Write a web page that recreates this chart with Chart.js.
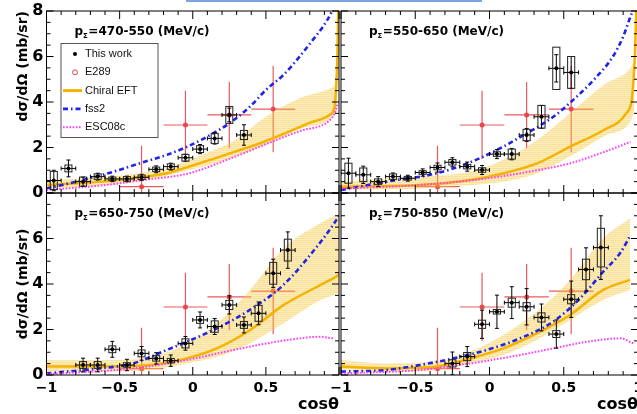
<!DOCTYPE html>
<html><head><meta charset="utf-8">
<script src="https://cdn.jsdelivr.net/npm/chart.js@4.4.1/dist/chart.umd.min.js"></script>
<style>
html,body{margin:0;padding:0;background:#fff;}
#wrap{position:relative;width:637px;height:414px;overflow:hidden;background:#fff;}
#wrap canvas{position:absolute;left:0;top:0;}
#bluebar{position:absolute;left:186px;top:0;width:296px;height:1.5px;background:#7ea3e3;}
</style></head><body>
<div id="wrap">
<canvas id="cTL" width="660" height="414"></canvas>
<canvas id="cTR" width="660" height="414"></canvas>
<canvas id="cBL" width="660" height="414"></canvas>
<canvas id="cBR" width="660" height="414"></canvas>
<div id="bluebar"></div>
</div>
<script>
// ---------- tick labels / texts ----------
const xTickValues = [-1, -0.5, 0, 0.5, 1];
const yTickValues = [0, 2, 4, 6, 8];
const momentumBins = ['470-550', '550-650', '650-750', '750-850'];
const legendLabels = ['This work', 'E289', 'Chiral EFT', 'fss2', 'ESC08c'];
const yTitleText = 'd\u03c3/d\u03a9 (mb/sr)';
const xTitleText = 'cos\u03b8';

// ---------- E289 (same in every panel) ----------
const e289X = [-0.35, -0.05, 0.25, 0.55];
const e289Y = [0.28, 2.99, 3.43, 3.69];
const e289Err = [1.8, 1.5, 1.45, 1.9];

// ---------- panel 1: 470-550 ----------
const tlX = [-0.95,-0.85,-0.75,-0.65,-0.55,-0.45,-0.35,-0.25,-0.15,-0.05,0.05,0.15,0.25,0.35];
const tlY = [0.55,1.08,0.50,0.72,0.62,0.62,0.69,1.04,1.16,1.55,1.93,2.40,3.43,2.55];
const tlStat = [0.45,0.37,0.2,0.15,0.12,0.12,0.13,0.15,0.15,0.15,0.2,0.25,0.3,0.45];
const tlSys = [0.4,0.15,0.2,0.12,0.08,0.1,0.1,0.1,0.12,0.15,0.15,0.22,0.37,0.2];
const tlFssX = [-1,-0.75,-0.54,-0.35,-0.18,-0.04,0.1,0.25,0.39,0.5,0.62,0.73,0.82,0.89,0.95,0.98];
const tlFssY = [0.2,0.57,0.94,1.33,1.67,2.03,2.48,3.06,3.79,4.53,5.19,5.99,6.72,7.31,7.97,8.5];
const tlCeftX = [-1,-0.62,-0.34,-0.17,-0.03,0.13,0.29,0.47,0.63,0.79,0.935,0.97,0.98,0.99,0.995];
const tlCeftY = [0.35,0.5,0.7,0.88,1.15,1.48,1.82,2.21,2.62,3.06,3.43,3.8,4.6,6.3,8.2];
const tlBandX = [-1,-0.6,-0.39,-0.2,-0.03,0.15,0.29,0.5,0.73,0.96,0.985];
const tlBandHi = [0.57,0.7,0.86,1.05,1.45,1.9,2.33,3.35,4.16,4.67,4.8];
const tlBandLo = [0.2,0.33,0.5,0.72,1.0,1.3,1.6,2.1,2.8,3.35,3.6];
const tlEscX = [-1,-0.6,-0.34,-0.03,0.29,0.5,0.73,0.93,0.97,0.99];
const tlEscY = [0.13,0.35,0.57,0.86,1.6,2.15,2.72,3.16,3.5,3.9];

// ---------- panel 2: 550-650 ----------
const trX = [-0.95,-0.85,-0.75,-0.65,-0.55,-0.45,-0.35,-0.25,-0.15,-0.05,0.05,0.15,0.25,0.35,0.45,0.55];
const trY = [0.87,0.80,0.50,0.72,0.65,0.90,1.12,1.35,1.16,1.01,1.71,1.71,2.55,3.35,5.48,5.30];
const trStat = [0.66,0.38,0.22,0.16,0.13,0.16,0.2,0.2,0.2,0.2,0.2,0.25,0.28,0.5,0.6,0.7];
const trSys = [0.44,0.3,0.12,0.12,0.08,0.08,0.1,0.12,0.1,0.1,0.1,0.22,0.25,0.5,0.93,0.7];
const trFssX = [-1,-0.69,-0.36,-0.13,0.07,0.25,0.43,0.56,0.72,0.83,0.9,0.945,0.97];
const trFssY = [0.13,0.5,0.86,1.35,1.96,2.62,3.35,4.07,5.1,5.99,6.87,7.68,8.1];
const trCeftX = [-1,-0.47,-0.13,0.09,0.32,0.54,0.77,0.92,0.958,0.97,0.98,0.99];
const trCeftY = [0.28,0.35,0.57,0.86,1.3,2.03,2.77,3.5,4.1,5.0,6.2,8.2];
const trBandX = [-1,-0.47,-0.13,0.09,0.32,0.54,0.77,0.95,0.975];
const trBandHi = [0.5,0.72,0.94,1.45,2.33,3.5,4.76,5.49,5.8];
const trBandLo = [0.13,0.2,0.35,0.5,0.86,1.6,2.5,3.15,3.6];
const trEscX = [-1,-0.47,-0.02,0.32,0.54,0.77,0.95];
const trEscY = [0.2,0.35,0.64,1.0,1.3,1.8,2.25];

// ---------- panel 3: 650-750 ----------
const blX = [-0.75,-0.65,-0.55,-0.45,-0.35,-0.25,-0.15,-0.05,0.05,0.15,0.25,0.35,0.45,0.55,0.65];
const blY = [0.44,0.44,1.13,0.44,0.95,0.73,0.63,1.39,2.42,2.13,3.08,2.2,2.71,4.47,5.49];
const blStat = [0.3,0.3,0.35,0.25,0.3,0.25,0.25,0.3,0.35,0.35,0.4,0.35,0.5,0.62,0.8];
const blSys = [0.15,0.15,0.15,0.1,0.15,0.12,0.1,0.2,0.15,0.25,0.2,0.15,0.35,0.48,0.48];
const blFssX = [-1,-0.635,-0.407,-0.178,-0.041,0.164,0.39,0.62,0.85,0.96,1.0];
const blFssY = [0.07,0.29,0.51,1.1,1.46,2.05,2.86,3.96,5.65,6.6,7.0];
const blCeftX = [-1,-0.635,-0.293,-0.041,0.164,0.39,0.62,0.85,0.96,1.0];
const blCeftY = [0.37,0.37,0.44,0.73,1.17,1.97,3.07,3.88,4.25,4.4];
const blBandX = [-1,-0.635,-0.293,-0.041,0.164,0.39,0.62,0.85,0.96,1.0];
const blBandHi = [0.65,0.65,0.8,1.39,2.27,3.73,5.56,6.59,6.96,7.0];
const blBandLo = [0.15,0.15,0.22,0.51,0.8,1.39,2.27,3.22,3.51,3.6];
const blEscX = [-1,-0.407,-0.041,0.278,0.506,0.733,0.87,0.96];
const blEscY = [0.04,0.29,0.66,1.1,1.39,1.61,1.68,1.61];

// ---------- panel 4: 750-850 ----------
const brX = [-0.25,-0.15,-0.05,0.05,0.15,0.25,0.35,0.45,0.55,0.65,0.75];
const brY = [0.51,0.81,2.23,2.78,3.18,3.0,2.53,1.80,3.33,4.64,5.6];
const brStat = [0.5,0.44,0.62,0.73,0.7,0.8,0.59,0.62,0.8,0.95,1.4];
const brSys = [0.16,0.18,0.18,0.1,0.2,0.18,0.2,0.15,0.2,0.45,0.85];
const brFssX = [-1,-0.692,-0.468,-0.244,-0.019,0.205,0.43,0.61,0.766,0.879,0.946];
const brFssY = [0.15,0.22,0.44,0.73,1.1,1.61,2.35,3.37,4.54,5.35,6.1];
const brCeftX = [-1,-0.692,-0.356,-0.131,0.093,0.318,0.542,0.766,0.946];
const brCeftY = [0.37,0.29,0.37,0.73,1.17,1.83,2.64,3.74,4.18];
const brBandX = [-1,-0.692,-0.356,-0.131,0.093,0.318,0.542,0.766,0.946];
const brBandHi = [0.66,0.51,0.59,1.03,1.76,2.79,4.18,6.01,6.89];
const brBandLo = [0.22,0.15,0.22,0.51,0.88,1.54,2.42,3.3,3.74];
const brEscX = [-1,-0.468,-0.131,0.205,0.43,0.655,0.879,0.969];
const brEscY = [0.07,0.22,0.51,0.88,1.17,1.46,1.61,1.39];

// ---------- styling ----------
const W = 660, H = 414;
const RED = '#e8484b', ORANGE = '#f5b301', BLUE = '#1f24e6', MAGENTA = '#ff3cff';
Chart.defaults.font.family = '"DejaVu Sans", sans-serif';
Chart.defaults.color = '#000';

const PANELS = [
  {id:'cTL', area:{l:46.5,t:11,r:339,b:193}, pl:14.6, hx:0, xLab:false, yLab:true, yTitle:'end', xTitle:false, hideX:[], hideY:[], bin:momentumBins[0], legend:true,
   tw:[tlX,tlY,tlStat,tlSys], fss:[tlFssX,tlFssY], ceft:[tlCeftX,tlCeftY], band:[tlBandX,tlBandLo,tlBandHi], esc:[tlEscX,tlEscY]},
  {id:'cTR', area:{l:341,t:11,r:638,b:193}, pl:341, hx:0, xLab:false, yLab:false, yTitle:false, xTitle:false, hideX:[], hideY:[], bin:momentumBins[1], legend:false,
   tw:[trX,trY,trStat,trSys], fss:[trFssX,trFssY], ceft:[trCeftX,trCeftY], band:[trBandX,trBandLo,trBandHi], esc:[trEscX,trEscY]},
  {id:'cBL', area:{l:46.5,t:193,r:339,b:375}, pl:14.6, hx:39, xLab:true, yLab:true, yTitle:'center', xTitle:true, hideX:[1], hideY:[8], bin:momentumBins[2], legend:false,
   tw:[blX,blY,blStat,blSys], fss:[blFssX,blFssY], ceft:[blCeftX,blCeftY], band:[blBandX,blBandLo,blBandHi], esc:[blEscX,blEscY]},
  {id:'cBR', area:{l:341,t:193,r:638,b:375}, pl:341, hx:39, xLab:true, yLab:false, yTitle:false, xTitle:true, hideX:[], hideY:[], bin:momentumBins[3], legend:false,
   tw:[brX,brY,brStat,brSys], fss:[brFssX,brFssY], ceft:[brCeftX,brCeftY], band:[brBandX,brBandLo,brBandHi], esc:[brEscX,brEscY]}
];
const PANEL_BY_ID = {};
PANELS.forEach(p => PANEL_BY_ID[p.id] = p);

function pts(xs, ys){ return xs.map((x,i)=>({x:x, y:ys[i]})); }
function fmt(v){ return v < 0 ? '\u2212' + String(-v) : String(v); }

function makePattern(ctx){
  const c = document.createElement('canvas'); c.width = 4; c.height = 2;
  const g = c.getContext('2d');
  g.fillStyle = 'rgba(245,195,50,0.5)'; g.fillRect(0,0,4,1);
  g.fillStyle = 'rgba(245,195,50,0.3)'; g.fillRect(0,1,4,1);
  return ctx.createPattern(c, 'repeat');
}

function drawErrors(chart, e){
  const {ctx, chartArea:a, scales:{x:xs, y:ys}} = chart;
  ctx.save();
  ctx.beginPath(); ctx.rect(a.left, a.top, a.right-a.left, a.bottom-a.top); ctx.clip();
  ctx.strokeStyle = e.color; ctx.lineWidth = e.lw;
  e.x.forEach((xv, i) => {
    const yv = e.y[i];
    const px = xs.getPixelForValue(xv), py = ys.getPixelForValue(yv);
    const x0 = xs.getPixelForValue(xv - e.xerr), x1 = xs.getPixelForValue(xv + e.xerr);
    const y0 = ys.getPixelForValue(yv - e.stat[i]), y1 = ys.getPixelForValue(yv + e.stat[i]);
    ctx.beginPath();
    ctx.moveTo(x0, py); ctx.lineTo(x1, py);
    ctx.moveTo(px, y0); ctx.lineTo(px, y1);
    if (e.cap) {
      const c = e.cap;
      ctx.moveTo(px-c, y0); ctx.lineTo(px+c, y0);
      ctx.moveTo(px-c, y1); ctx.lineTo(px+c, y1);
      ctx.moveTo(x0, py-c); ctx.lineTo(x0, py+c);
      ctx.moveTo(x1, py-c); ctx.lineTo(x1, py+c);
    }
    ctx.stroke();
    if (e.sys) {
      const bx0 = xs.getPixelForValue(xv - e.box), bx1 = xs.getPixelForValue(xv + e.box);
      const by0 = ys.getPixelForValue(yv - e.sys[i]), by1 = ys.getPixelForValue(yv + e.sys[i]);
      ctx.strokeStyle = '#222'; ctx.lineWidth = 1;
      ctx.strokeRect(bx0, by1, bx1-bx0, by0-by1);
      ctx.strokeStyle = e.color; ctx.lineWidth = e.lw;
    }
  });
  ctx.restore();
}

function drawTitle(ctx, a, bin){
  ctx.fillStyle = '#000'; ctx.textBaseline = 'alphabetic'; ctx.textAlign = 'left';
  let x = a.left + 28; const y = a.top + 24;
  ctx.font = 'bold 12px "DejaVu Sans", sans-serif';
  ctx.fillText('p', x, y); x += ctx.measureText('p').width;
  ctx.font = 'bold 7px "DejaVu Sans", sans-serif';
  ctx.fillText('\u03a3', x, y + 3); x += ctx.measureText('\u03a3').width + 0.5;
  ctx.font = 'bold 12px "DejaVu Sans", sans-serif';
  ctx.fillText('=' + bin + ' (MeV/c)', x, y);
}

function drawLegend(ctx, a){
  const bx = a.left + 14.5, by = a.top + 32.5, bw = 97, bh = 94;
  ctx.fillStyle = '#fff'; ctx.fillRect(bx, by, bw, bh);
  ctx.strokeStyle = '#555'; ctx.lineWidth = 1; ctx.setLineDash([]);
  ctx.strokeRect(bx, by, bw, bh);
  const sx = bx + 14, lx0 = bx + 2, lx1 = bx + 21;
  legendLabels.forEach((lab, i) => {
    const yy = by + 10.5 + i * 18.3;
    ctx.save();
    if (i === 0) { ctx.fillStyle = '#000'; ctx.beginPath(); ctx.arc(sx, yy, 2, 0, Math.PI*2); ctx.fill(); }
    else if (i === 1) { ctx.strokeStyle = RED; ctx.lineWidth = 1; ctx.beginPath(); ctx.arc(sx, yy, 2.5, 0, Math.PI*2); ctx.stroke(); }
    else {
      const st = [[ORANGE,3,[]],[BLUE,2.6,[5,3,1.5,3]],[MAGENTA,2,[1.6,1.6]]][i-2];
      ctx.strokeStyle = st[0]; ctx.lineWidth = st[1]; ctx.setLineDash(st[2]);
      ctx.beginPath(); ctx.moveTo(lx0, yy); ctx.lineTo(lx1, yy); ctx.stroke();
    }
    ctx.restore();
    ctx.fillStyle = '#111'; ctx.font = '11px "Liberation Sans", Arial, sans-serif';
    ctx.textBaseline = 'middle'; ctx.textAlign = 'left';
    ctx.fillText(lab, bx + 24, yy);
  });
}

const decor = {
  id: 'decor',
  beforeDatasetDraw(chart, args){
    const ds = chart.data.datasets[args.index];
    if (ds.err) drawErrors(chart, ds.err);
  },
  afterDraw(chart){
    const p = PANEL_BY_ID[chart.canvas.id];
    const {ctx, chartArea:a, scales:{x:xs, y:ys}} = chart;
    ctx.save();
    ctx.setLineDash([]);
    ctx.strokeStyle = '#000'; ctx.lineWidth = 1;
    ctx.strokeRect(a.left, a.top, a.right-a.left, a.bottom-a.top);
    ctx.beginPath();
    for (let i = -10; i <= 10; i++) {
      const px = xs.getPixelForValue(i/10); const L = (i % 5 === 0) ? 8 : 4;
      ctx.moveTo(px, a.bottom); ctx.lineTo(px, a.bottom - L);
      ctx.moveTo(px, a.top); ctx.lineTo(px, a.top + L);
    }
    for (let i = 0; i <= 16; i++) {
      const py = ys.getPixelForValue(i/2); const L = (i % 4 === 0) ? 7 : 4;
      ctx.moveTo(a.left, py); ctx.lineTo(a.left + L, py);
      ctx.moveTo(a.right, py); ctx.lineTo(a.right - L, py);
    }
    ctx.stroke();
    drawTitle(ctx, a, p.bin);
    if (p.legend) drawLegend(ctx, a);
    ctx.restore();
  }
};

function makeChart(p){
  const cv = document.getElementById(p.id);
  const ctx = cv.getContext('2d');
  const pat = makePattern(ctx);
  const Wy = p.area.l - p.pl;
  const lineDs = (label, arr, color, width, dash, order) => ({
    label, data: pts(arr[0], arr[1]), borderColor: color, borderWidth: width, borderDash: dash,
    pointRadius: 0, fill: false, cubicInterpolationMode: 'monotone', order
  });
  const datasets = [
    {label:'This work', data: pts(p.tw[0], p.tw[1]), showLine:false, pointRadius:2, pointBackgroundColor:'#000', pointBorderColor:'#000', pointBorderWidth:0, order:0,
     err:{x:p.tw[0], y:p.tw[1], stat:p.tw[2], sys:p.tw[3], xerr:0.05, box:0.024, cap:2, color:'#000', lw:1}},
    lineDs('ESC08c', p.esc, MAGENTA, 2, [1.6,1.6], 2),
    lineDs('fss2', p.fss, BLUE, 2.6, [5,3,1.5,3], 3),
    lineDs('Chiral EFT', p.ceft, ORANGE, 2.5, [], 4),
    {label:'band low', data: pts(p.band[0], p.band[1]), borderColor:'rgba(0,0,0,0)', borderWidth:1, pointRadius:0, fill:false, cubicInterpolationMode:'monotone', order:5},
    {label:'band high', data: pts(p.band[0], p.band[2]), borderColor:'rgba(0,0,0,0)', borderWidth:1, pointRadius:0, fill:'-1', backgroundColor:pat, cubicInterpolationMode:'monotone', order:6},
    {label:'E289', data: pts(e289X, e289Y), showLine:false, pointRadius:2.5, pointBackgroundColor:RED, pointBorderColor:RED, pointBorderWidth:0, order:7,
     err:{x:e289X, y:e289Y, stat:e289Err, sys:null, xerr:0.15, box:0, cap:0, color:'rgba(232,72,75,0.9)', lw:1.2}}
  ];
  new Chart(ctx, {
    type: 'line',
    data: {datasets},
    options: {
      responsive:false, animation:false, devicePixelRatio:1, events:[],
      layout:{padding:{left:p.pl, top:p.area.t, right:W - p.area.r, bottom:H - p.area.b - p.hx}},
      plugins:{legend:{display:false}, tooltip:{enabled:false}},
      scales:{
        x:{type:'linear', min:-1, max:1,
           grid:{display:false, drawTicks:false}, border:{display:false},
           afterBuildTicks: s => { s.ticks = xTickValues.map(v => ({value:v})); },
           ticks:{display:p.xLab, autoSkip:false, maxRotation:0, padding:5, color:'#000',
                  font:{size:14, weight:'bold'}, callback: v => p.hideX.includes(v) ? '' : fmt(v)},
           title:{display:p.xTitle, text:xTitleText, align:'end', padding:0, color:'#000', font:{size:16, weight:'bold'}},
           afterFit: s => { s.height = p.hx; s.paddingLeft = 0; s.paddingRight = 0; }},
        y:{type:'linear', min:0, max:8,
           grid:{display:false, drawTicks:false}, border:{display:false},
           afterBuildTicks: s => { s.ticks = yTickValues.map(v => ({value:v})); },
           ticks:{display:p.yLab, padding:3, color:'#000', font:{size:16, weight:'bold'},
                  callback: v => p.hideY.includes(v) ? '' : fmt(v)},
           title:{display:!!p.yTitle, text:yTitleText, align:p.yTitle || 'center', padding:0, color:'#000', font:{size:14, weight:'bold'}},
           afterFit: s => { s.width = Wy; s.paddingTop = 0; s.paddingBottom = 0; }}
      }
    },
    plugins:[decor]
  });
}
PANELS.forEach(makeChart);
</script>
</body></html>
